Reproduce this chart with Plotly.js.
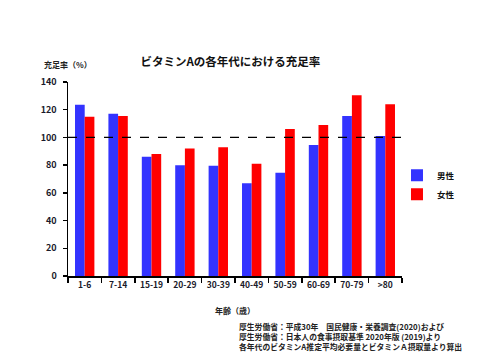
<!DOCTYPE html>
<html>
<head>
<meta charset="utf-8">
<script src="https://cdn.plot.ly/plotly-3.0.1.min.js"></script>
<style>html,body{margin:0;padding:0;background:#fff}#chart{width:480px;height:360px}</style>
</head>
<body>
<div id="chart"></div>
<script>
const categories = ["1-6","7-14","15-19","20-29","30-39","40-49","50-59","60-69","70-79",">80"];
const male = [123.5,117,86,80,79.5,67,74.5,94.5,115.5,101];
const female = [115,115.5,88,92,93,81,106,109,130.5,124];
const yTicks = [0,20,40,60,80,100,120,140];
const seriesNames = ["男性","女性"];
const titleText = "ビタミンAの各年代における充足率";
const yTitle = "充足率（%）";
const xTitle = "年齢（歳）";
const notes = [
  "厚生労働省：平成30年　国民健康・栄養調査(2020)および",
  "厚生労働省：日本人の食事摂取基準 2020年版 (2019)より",
  "各年代のビタミンA推定平均必要量とビタミンＡ摂取量より算出"
];
const refLine = 100;

const F = '"Noto Sans CJK JP", "Noto Sans", sans-serif';
const data = [
  {type:'bar', x:categories, y:male, name:seriesNames[0], marker:{color:'#3333FF'}},
  {type:'bar', x:categories, y:female, name:seriesNames[1], marker:{color:'#FF0000'}}
];
const noteAnns = notes.map((t,i)=>({
  text:'<b>'+t+'</b>', xref:'paper', yref:'paper', x:0.505, y:-0.26 - i*0.051,
  xanchor:'left', yanchor:'middle', showarrow:false, font:{family:F, size:7.8, color:'#222'}
}));
const layout = {
  width:480, height:360,
  margin:{l:68, r:78, t:82, b:84},
  paper_bgcolor:'#fff', plot_bgcolor:'#fff',
  font:{family:F, color:'#1a1a2a'},
  title:{text:'<b>'+titleText+'</b>', x:0.48, xanchor:'center', y:0.828, yanchor:'middle', font:{family:F, size:11.5, color:'#111'}},
  barmode:'group', bargap:0.42, bargroupgap:0,
  showlegend:true,
  legend:{x:0.985, xanchor:'left', y:0.47, yanchor:'middle', font:{family:F, size:8.5, color:'#111', weight:'bold'}, itemwidth:30, tracegroupgap:0, bgcolor:'rgba(0,0,0,0)'},
  xaxis:{type:'category', showline:true, linecolor:'#000', linewidth:1.5, ticks:'outside', tickson:'boundaries', ticklen:5, tickcolor:'#000', tickwidth:1.5,
    tickangle:0, tickfont:{family:F, size:8.5, color:'#1a1a2a', weight:'bold'}, showgrid:false, fixedrange:true},
  yaxis:{range:[0,140], tickvals:yTicks, showline:true, linecolor:'#000', linewidth:1.5, ticks:'outside', ticklen:4, tickcolor:'#000', tickwidth:1.5,
    tickfont:{family:F, size:9, color:'#1a1a2a', weight:'bold'}, showgrid:false, zeroline:false, ticklabelstandoff:4},
  shapes:[{type:'line', xref:'paper', yref:'y', x0:0, x1:1, y0:refLine, y1:refLine, line:{color:'#000', width:1.2, dash:'dash'}}],
  annotations:[
    {text:'<b>'+yTitle+'</b>', xref:'paper', yref:'paper', x:0.0, y:1.09, xanchor:'center', yanchor:'middle', showarrow:false, font:{family:F, size:8, color:'#222'}},
    {text:'<b>'+xTitle+'</b>', xref:'paper', yref:'paper', x:0.5, y:-0.18, xanchor:'center', yanchor:'middle', showarrow:false, font:{family:F, size:8, color:'#222'}}
  ].concat(noteAnns)
};
Plotly.newPlot('chart', data, layout, {displayModeBar:false, staticPlot:true});
</script>
</body>
</html>
